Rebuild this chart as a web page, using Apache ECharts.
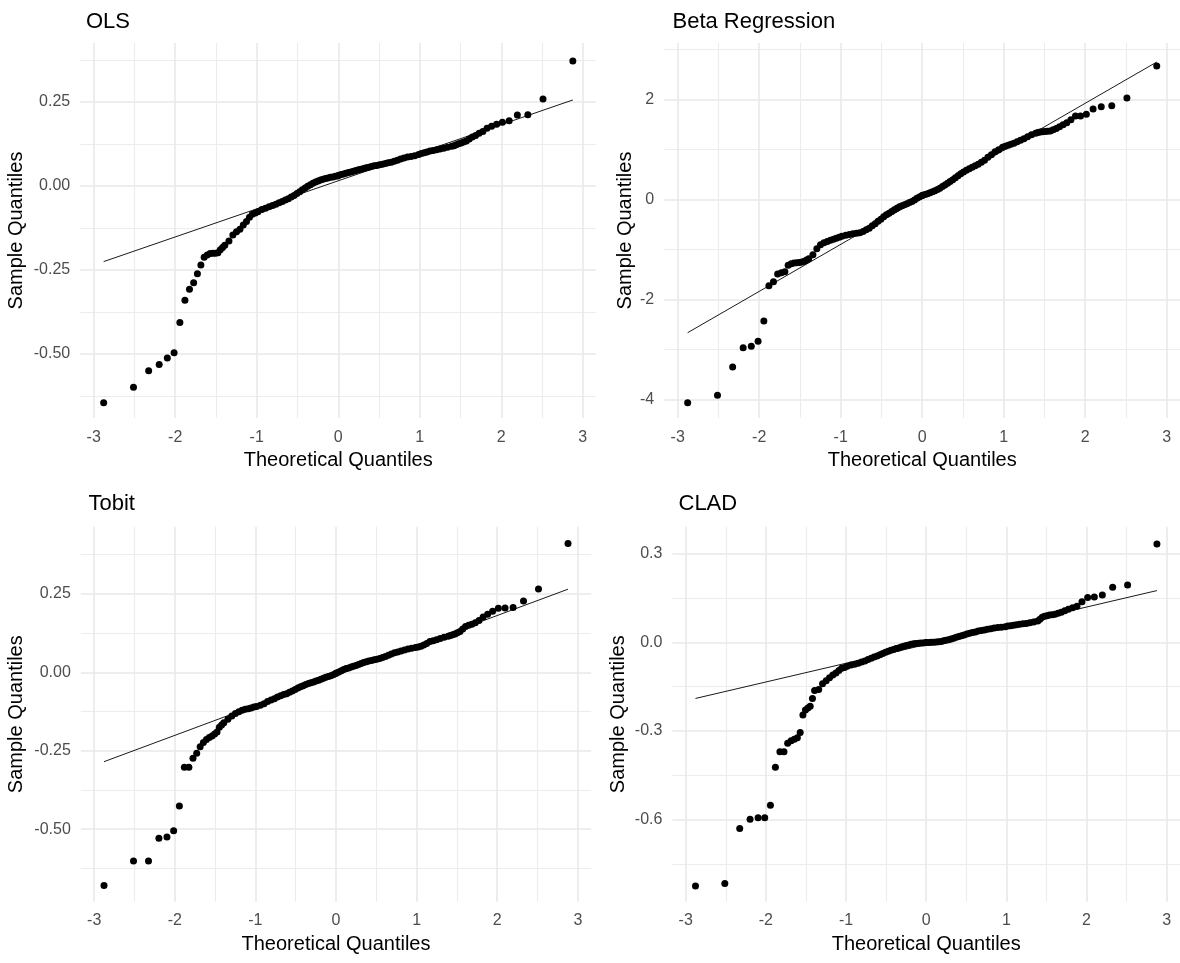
<!DOCTYPE html>
<html><head><meta charset="utf-8">
<script src="https://cdn.jsdelivr.net/npm/echarts@6/dist/echarts.min.js"></script>
<style>html,body{margin:0;padding:0;background:#fff}#chart{width:1180px;height:963px}</style>
</head><body><div id="chart"></div>
<script>
// Theoretical normal quantiles (shared by every panel), ascending
const theoreticalQuantiles = [
 -2.878,-2.512,-2.326,-2.197,-2.097,-2.014,-1.943,-1.881,-1.825,-1.774,-1.728,-1.685,-1.645,-1.607,-1.572,-1.538,-1.506,-1.476,-1.447,-1.419,-1.392,
 -1.341,-1.293,-1.248,-1.206,-1.165,-1.126,-1.089,-1.054,-1.019,-0.986,
 -0.938,-0.893,-0.849,-0.806,-0.765,-0.726,-0.687,-0.650,-0.613,-0.577,-0.542,-0.507,-0.473,-0.440,-0.407,-0.375,-0.342,-0.311,-0.279,-0.248,-0.217,-0.187,-0.156,-0.126,-0.095,-0.065,-0.035,-0.005,
 0.005,0.035,0.065,0.095,0.126,0.156,0.187,0.217,0.248,0.279,0.311,0.342,0.375,0.407,0.440,0.473,0.507,0.542,0.577,0.613,0.650,0.687,0.726,0.765,0.806,0.849,0.893,0.938,
 0.986,1.019,1.054,1.089,1.126,1.165,1.206,1.248,1.293,1.341,
 1.392,1.419,1.447,1.476,1.506,1.538,1.572,1.607,1.645,1.685,1.728,1.774,1.825,1.881,1.943,2.014,2.097,2.197,2.326,2.512,2.878
];

// Sample quantiles per model (sorted)
const olsSample = [
 -0.645,-0.599,-0.550,-0.531,-0.512,-0.496,-0.406,-0.340,-0.307,-0.288,-0.261,-0.235,-0.212,-0.205,-0.201,-0.200,-0.200,-0.199,-0.190,-0.183,-0.176,
 -0.164,-0.146,-0.136,-0.129,-0.116,-0.106,-0.093,-0.084,-0.080,-0.077,
 -0.070,-0.066,-0.062,-0.058,-0.054,-0.050,-0.046,-0.042,-0.038,-0.033,-0.028,-0.022,-0.017,-0.011,-0.006,-0.001,0.004,0.008,0.012,0.015,0.018,0.020,0.022,0.024,0.026,0.027,0.029,0.030,
 0.032,0.034,0.036,0.038,0.040,0.042,0.044,0.046,0.048,0.050,0.052,0.054,0.056,0.058,0.060,0.061,0.063,0.065,0.067,0.069,0.071,0.074,0.077,0.080,0.083,0.086,0.088,0.090,
 0.094,0.097,0.099,0.101,0.104,0.106,0.108,0.110,0.112,0.115,
 0.118,0.120,0.123,0.126,0.128,0.131,0.134,0.140,0.146,0.150,0.157,0.162,0.172,0.178,0.184,0.190,0.194,0.211,0.212,0.259,0.372
];
const betaSample = [
 -4.068,-3.920,-3.354,-2.967,-2.940,-2.840,-2.434,-1.727,-1.647,-1.494,-1.467,-1.447,-1.320,-1.290,-1.275,-1.268,-1.262,-1.255,-1.240,-1.213,-1.190,
 -1.110,-0.990,-0.910,-0.870,-0.845,-0.820,-0.800,-0.780,-0.760,-0.740,
 -0.720,-0.705,-0.690,-0.680,-0.670,-0.645,-0.610,-0.580,-0.530,-0.490,-0.440,-0.400,-0.350,-0.310,-0.280,-0.245,-0.210,-0.180,-0.150,-0.130,-0.110,-0.090,-0.065,-0.042,-0.015,0.020,0.045,0.070,
 0.080,0.095,0.110,0.130,0.150,0.170,0.195,0.220,0.255,0.285,0.320,0.355,0.390,0.430,0.470,0.510,0.545,0.580,0.610,0.640,0.670,0.700,0.740,0.780,0.840,0.890,0.950,0.990,
 1.040,1.060,1.080,1.100,1.120,1.150,1.180,1.210,1.250,1.290,
 1.320,1.335,1.345,1.352,1.357,1.362,1.368,1.390,1.415,1.450,1.490,1.530,1.590,1.665,1.667,1.700,1.807,1.853,1.873,2.027,2.667
];
const tobitSample = [
 -0.680,-0.602,-0.602,-0.529,-0.525,-0.505,-0.426,-0.303,-0.303,-0.274,-0.258,-0.237,-0.224,-0.214,-0.208,-0.203,-0.197,-0.190,-0.175,-0.168,-0.161,
 -0.150,-0.139,-0.131,-0.126,-0.121,-0.118,-0.116,-0.114,-0.111,-0.109,
 -0.105,-0.100,-0.093,-0.088,-0.084,-0.079,-0.075,-0.071,-0.068,-0.064,-0.060,-0.055,-0.050,-0.046,-0.043,-0.039,-0.036,-0.033,-0.031,-0.028,-0.025,-0.022,-0.019,-0.016,-0.013,-0.011,-0.008,-0.004,
 -0.002,0.001,0.005,0.009,0.012,0.014,0.017,0.019,0.022,0.025,0.028,0.031,0.034,0.036,0.038,0.040,0.042,0.044,0.047,0.050,0.054,0.058,0.062,0.065,0.068,0.071,0.074,0.077,
 0.079,0.081,0.083,0.087,0.092,0.098,0.101,0.104,0.108,0.112,
 0.115,0.117,0.120,0.122,0.126,0.130,0.138,0.146,0.150,0.153,0.158,0.165,0.176,0.185,0.195,0.204,0.205,0.207,0.227,0.266,0.411
];
const cladSample = [
 -0.825,-0.816,-0.630,-0.599,-0.594,-0.594,-0.551,-0.423,-0.370,-0.370,-0.342,-0.333,-0.328,-0.323,-0.305,-0.246,-0.229,-0.222,-0.216,-0.190,-0.163,
 -0.160,-0.140,-0.130,-0.120,-0.111,-0.104,-0.095,-0.088,-0.085,-0.081,
 -0.077,-0.074,-0.071,-0.067,-0.063,-0.058,-0.054,-0.050,-0.046,-0.042,-0.038,-0.034,-0.030,-0.027,-0.024,-0.021,-0.019,-0.016,-0.013,-0.011,-0.009,-0.007,-0.005,-0.004,-0.003,-0.002,-0.002,-0.001,
 -0.001,-0.001,0.000,0.000,0.001,0.002,0.003,0.005,0.007,0.009,0.011,0.014,0.017,0.020,0.022,0.025,0.028,0.031,0.033,0.035,0.038,0.040,0.042,0.044,0.046,0.048,0.050,0.051,
 0.053,0.055,0.056,0.058,0.059,0.061,0.063,0.064,0.066,0.069,
 0.072,0.078,0.085,0.088,0.090,0.092,0.093,0.095,0.098,0.102,0.107,0.112,0.117,0.122,0.137,0.152,0.153,0.160,0.186,0.194,0.333
];

// Reference (qq) line end values at the first and last theoretical quantile
const lineEndX = [-2.878, 2.878];
const olsLineEnds = [-0.225, 0.256];
const betaLineEnds = [-2.668, 2.746];
const tobitLineEnds = [-0.285, 0.265];
const cladLineEnds = [-0.190, 0.175];

// Ticks
const xMajorTicks = [-3, -2, -1, 0, 1, 2, 3];
const xMinorTicks = [-2.5, -1.5, -0.5, 0.5, 1.5, 2.5];
const olsYTicks = [-0.5, -0.25, 0, 0.25];
const olsYLabels = ['-0.50', '-0.25', '0.00', '0.25'];
const olsYMinor = [-0.625, -0.375, -0.125, 0.125, 0.375];
const betaYTicks = [-4, -2, 0, 2];
const betaYLabels = ['-4', '-2', '0', '2'];
const betaYMinor = [-3, -1, 1, 3];
const tobitYTicks = [-0.5, -0.25, 0, 0.25];
const tobitYLabels = ['-0.50', '-0.25', '0.00', '0.25'];
const tobitYMinor = [-0.625, -0.375, -0.125, 0.125, 0.375];
const cladYTicks = [-0.6, -0.3, 0, 0.3];
const cladYLabels = ['-0.6', '-0.3', '0.0', '0.3'];
const cladYMinor = [-0.75, -0.45, -0.15, 0.15];

const panelTitles = ['OLS', 'Beta Regression', 'Tobit', 'CLAD'];
const xAxisTitle = 'Theoretical Quantiles';
const yAxisTitle = 'Sample Quantiles';

const FONT = '"Liberation Sans", Arial, Helvetica, sans-serif';
const X_RANGE = [-3.1658, 3.1658];

const panels = [
  { sample: olsSample, lineEnds: olsLineEnds, yTicks: olsYTicks, yLabels: olsYLabels, yMinor: olsYMinor,
    yRange: [-0.6905, 0.4256], grid: { left: 80.2, top: 43, width: 516.1, height: 375 },
    titleX: 86, titleY: 21.7, yNameX: 16.8, xMargin: 12 },
  { sample: betaSample, lineEnds: betaLineEnds, yTicks: betaYTicks, yLabels: betaYLabels, yMinor: betaYMinor,
    yRange: [-4.374, 3.126], grid: { left: 664.2, top: 43, width: 516, height: 375 },
    titleX: 672.5, titleY: 21.7, yNameX: 625.5, xMargin: 12 },
  { sample: tobitSample, lineEnds: tobitLineEnds, yTicks: tobitYTicks, yLabels: tobitYLabels, yMinor: tobitYMinor,
    yRange: [-0.7315, 0.4643], grid: { left: 80.8, top: 526.7, width: 510.4, height: 375 },
    titleX: 88.5, titleY: 504.3, yNameX: 16.8, xMargin: 11 },
  { sample: cladSample, lineEnds: cladLineEnds, yTicks: cladYTicks, yLabels: cladYLabels, yMinor: cladYMinor,
    yRange: [-0.8778, 0.3912], grid: { left: 672.4, top: 526.7, width: 507.6, height: 375 },
    titleX: 678.5, titleY: 504.3, yNameX: 618, xMargin: 11 }
];

const grids = [], xAxes = [], yAxes = [], series = [], graphics = [];
const majorLine = { show: true, lineStyle: { color: '#e9e9e9', width: 1.6, type: 'solid' } };
const minorLine = { show: true, lineStyle: { color: '#ececec', width: 1.1, type: 'solid' } };

panels.forEach((p, i) => {
  grids.push({ left: p.grid.left, top: p.grid.top, width: p.grid.width, height: p.grid.height,
               containLabel: false, outerBoundsMode: 'none', show: false });
  xAxes.push({
    type: 'value', gridIndex: i, position: 'bottom', min: X_RANGE[0], max: X_RANGE[1],
    axisLine: { show: false }, axisTick: { show: false, customValues: xMajorTicks },
    axisLabel: { customValues: xMajorTicks, margin: p.xMargin, fontSize: 16, fontFamily: FONT, color: '#4d4d4d' },
    splitLine: majorLine
  });
  xAxes.push({
    type: 'value', gridIndex: i, position: 'top', min: X_RANGE[0], max: X_RANGE[1],
    axisLine: { show: false }, axisTick: { show: false, customValues: xMinorTicks },
    axisLabel: { show: false }, splitLine: minorLine
  });
  yAxes.push({
    type: 'value', gridIndex: i, position: 'left', min: p.yRange[0], max: p.yRange[1],
    axisLine: { show: false }, axisTick: { show: false, customValues: p.yTicks },
    axisLabel: { customValues: p.yTicks, margin: 10, fontSize: 16, fontFamily: FONT, color: '#4d4d4d',
      padding: [3, 0, 0, 0],
      formatter: (v) => { const k = p.yTicks.findIndex(t => Math.abs(t - v) < 1e-9); return k >= 0 ? p.yLabels[k] : ''; } },
    splitLine: majorLine
  });
  yAxes.push({
    type: 'value', gridIndex: i, position: 'right', min: p.yRange[0], max: p.yRange[1],
    axisLine: { show: false }, axisTick: { show: false, customValues: p.yMinor },
    axisLabel: { show: false }, splitLine: minorLine
  });
  series.push({
    type: 'scatter', xAxisIndex: 2 * i, yAxisIndex: 2 * i, symbol: 'circle', symbolSize: 7,
    itemStyle: { color: '#000', opacity: 1 }, silent: true, z: 3,
    data: theoreticalQuantiles.map((x, k) => [x, p.sample[k]])
  });
  series.push({
    type: 'line', xAxisIndex: 2 * i, yAxisIndex: 2 * i, symbol: 'none', silent: true, z: 4,
    lineStyle: { color: '#000', width: 0.9 },
    data: [[lineEndX[0], p.lineEnds[0]], [lineEndX[1], p.lineEnds[1]]]
  });
  const cx = p.grid.left + p.grid.width / 2;
  const cy = p.grid.top + p.grid.height / 2;
  graphics.push({ type: 'text', x: p.titleX, y: p.titleY, silent: true,
    style: { text: panelTitles[i], fontSize: 22, fontFamily: FONT, fill: '#000', textAlign: 'left', verticalAlign: 'middle', textVerticalAlign: 'middle' } });
  graphics.push({ type: 'text', x: cx, y: p.grid.top + p.grid.height + 42.6, silent: true,
    style: { text: xAxisTitle, fontSize: 20, fontFamily: FONT, fill: '#000', textAlign: 'center', verticalAlign: 'middle', textVerticalAlign: 'middle' } });
  graphics.push({ type: 'text', x: p.yNameX, y: cy, rotation: Math.PI / 2, silent: true,
    style: { text: yAxisTitle, fontSize: 20, fontFamily: FONT, fill: '#000', textAlign: 'center', verticalAlign: 'middle', textVerticalAlign: 'middle' } });
});

const chart = echarts.init(document.getElementById('chart'), null, { renderer: 'canvas' });
chart.setOption({
  animation: false,
  backgroundColor: '#ffffff',
  grid: grids, xAxis: xAxes, yAxis: yAxes, series: series, graphic: graphics
});
</script>
</body></html>
